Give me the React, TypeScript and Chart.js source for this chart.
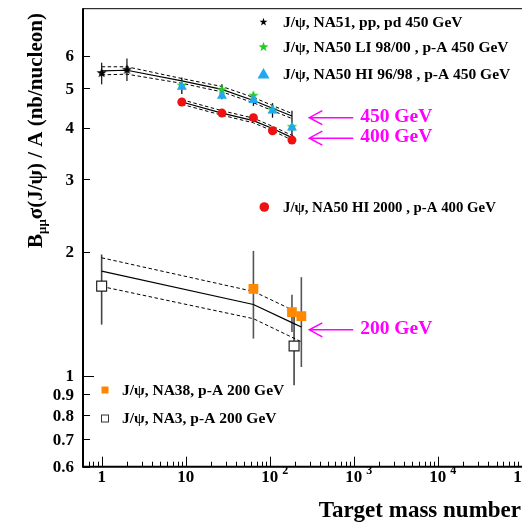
import React, { useEffect, useRef } from "react";
import { Chart, registerables } from "chart.js";
Chart.register(...registerables);

const SERIF = '"Liberation Serif", "Times New Roman", serif';

// ---- Data: J/psi, NA51 pp, pd 450 GeV
const NA51_A = [1, 2];
const NA51_Y = [5.46, 5.56];
const NA51_LO = [5.11, 5.21];
const NA51_HI = [5.77, 5.91];

// ---- NA50 LI 98/00, p-A 450 GeV
const LI_A = [9, 27, 64, 108, 184];
const LI_Y = [5.09, 4.97, 4.81, 4.45, 4.04];
const LI_LO = [4.84, 4.7, 4.53, 4.24, 3.83];
const LI_HI = [5.31, 5.11, 4.88, 4.6, 4.41];

// ---- NA50 HI 96/98, p-A 450 GeV
const HI_A = [9, 27, 64, 108, 184];
const HI_Y = [5.04, 4.79, 4.68, 4.41, 4.01];

// ---- NA50 HI 2000, p-A 400 GeV
const H2_A = [9, 27, 64, 108, 184];
const H2_Y = [4.63, 4.35, 4.24, 3.94, 3.74];

// ---- NA38, p-A 200 GeV
const NA38_A = [64, 184, 238];
const NA38_Y = [1.626, 1.427, 1.395];
const NA38_LO = [1.23, 1.276, 1.049];
const NA38_HI = [2.01, 1.573, 1.735];

// ---- NA3, p-A 200 GeV
const NA3_A = [1, 195];
const NA3_Y = [1.65, 1.18];
const NA3_LO = [1.33, 0.947];
const NA3_HI = [1.97, 1.4];

// ---- Fits (central, upper, lower)
const F450_A = [1, 2, 9, 27, 64, 108, 184];
const F450 = [5.51, 5.53, 5.21, 4.97, 4.67, 4.47, 4.28];
const F450_UP = [5.64, 5.64, 5.28, 5.05, 4.75, 4.54, 4.34];
const F450_DN = [5.39, 5.41, 5.14, 4.9, 4.61, 4.41, 4.22];

const F400_A = [9, 27, 64, 108, 195];
const F400 = [4.63, 4.35, 4.17, 3.99, 3.77];
const F400_UP = [4.69, 4.41, 4.23, 4.04, 3.82];
const F400_DN = [4.57, 4.3, 4.12, 3.94, 3.72];

const F200_A = [1, 64, 184, 238];
const F200 = [1.795, 1.489, 1.345, 1.312];
const F200_UP = [1.934, 1.602, 1.446, 1.41];
const F200_DN = [1.647, 1.375, 1.239, 1.208];

// ---- Axes
const X_MIN = 0.6;
const X_MAX = 1e5;
const Y_MIN = 0.6;
const Y_MAX = 7.83;
const X_DECADES = [0, 1, 2, 3, 4, 5];
const Y_TICKS = [0.6, 0.7, 0.8, 0.9, 1, 2, 3, 4, 5, 6];
const Y_TICK_LABELS = ["0.6", "0.7", "0.8", "0.9", "1", "2", "3", "4", "5", "6"];

// ---- Energy arrows (data coords)
const ARROW_LABELS = ["450 GeV", "400 GeV", "200 GeV"];
const ARROW_Y = [4.24, 3.78, 1.292];
const ARROW_TIP_A = 296;
const ARROW_TAIL_A = 985;
const ARROW_TEXT_A = 1195;

// ---- Legend texts
const LEGEND_TOP = [
  "J/\u03c8, NA51, pp, pd 450 GeV",
  "J/\u03c8, NA50 LI 98/00 , p-A 450 GeV",
  "J/\u03c8, NA50 HI 96/98 , p-A 450 GeV",
];
const LEGEND_RED = "J/\u03c8, NA50 HI 2000 , p-A 400 GeV";
const LEGEND_BOTTOM = ["J/\u03c8, NA38, p-A 200 GeV", "J/\u03c8, NA3, p-A 200 GeV"];

const C_GREEN = "#22cc22";
const C_BLUE = "#22a8f0";
const C_RED = "#ee1111";
const C_ORANGE = "#ff8800";
const C_MAGENTA = "#ff00ff";

function starPath(ctx: CanvasRenderingContext2D, x: number, y: number, R: number) {
  ctx.beginPath();
  for (let i = 0; i < 10; i++) {
    const r = i % 2 === 0 ? R : R * 0.4;
    const a = -Math.PI / 2 + (i * Math.PI) / 5;
    const px = x + r * Math.cos(a);
    const py = y + r * Math.sin(a);
    if (i === 0) ctx.moveTo(px, py);
    else ctx.lineTo(px, py);
  }
  ctx.closePath();
}

function makeStar(R: number, color: string): HTMLCanvasElement {
  const s = Math.ceil(2 * R + 2);
  const c = document.createElement("canvas");
  c.width = s;
  c.height = s;
  const ctx = c.getContext("2d")!;
  starPath(ctx, s / 2, s / 2 + 0.5, R);
  ctx.fillStyle = color;
  ctx.fill();
  return c;
}

const pts = (xs: number[], ys: number[]) => xs.map((x, i) => ({ x, y: ys[i] }));

export default function App() {
  const ref = useRef<HTMLCanvasElement>(null);
  useEffect(() => {
    const canvas = ref.current!;
    const starBlack = makeStar(5.4, "#000");
    const starGreen = makeStar(5.6, C_GREEN);

    const lineDs = (xs: number[], ys: number[], dashed: boolean) => ({
      type: "line" as const,
      data: pts(xs, ys),
      showLine: true,
      borderColor: "#000",
      borderWidth: dashed ? 1 : 1.2,
      borderDash: dashed ? [3.5, 2.5] : [],
      pointRadius: 0,
      fill: false,
      tension: 0,
      order: 1,
    });

    const errPlugin = {
      id: "errbars",
      beforeDatasetsDraw(chart: any) {
        const ctx = chart.ctx;
        const xs = chart.scales.x;
        const ys = chart.scales.y;
        chart.data.datasets.forEach((ds: any) => {
          if (!ds.errLo) return;
          ctx.save();
          ctx.strokeStyle = ds.errColor;
          ctx.lineWidth = ds.errWidth;
          ds.data.forEach((p: any, i: number) => {
            const px = xs.getPixelForValue(p.x);
            ctx.beginPath();
            ctx.moveTo(px, ys.getPixelForValue(ds.errLo[i]));
            ctx.lineTo(px, ys.getPixelForValue(ds.errHi[i]));
            ctx.stroke();
          });
          ctx.restore();
        });
      },
    };

    const decoPlugin = {
      id: "deco",
      afterDraw(chart: any) {
        const ctx: CanvasRenderingContext2D = chart.ctx;
        const xs = chart.scales.x;
        const ys = chart.scales.y;
        const a = chart.chartArea;
        ctx.save();
        ctx.strokeStyle = "#000";
        ctx.fillStyle = "#000";
        // frame
        ctx.lineWidth = 1;
        ctx.beginPath();
        ctx.moveTo(a.left, a.top + 0.5);
        ctx.lineTo(a.right + 10, a.top + 0.5);
        ctx.stroke();
        ctx.lineWidth = 2;
        ctx.beginPath();
        ctx.moveTo(a.left, a.top);
        ctx.lineTo(a.left, a.bottom);
        ctx.lineTo(a.right + 10, a.bottom);
        ctx.stroke();
        // x ticks
        ctx.lineWidth = 1;
        for (let e = -1; e <= 5; e++) {
          for (let m = 1; m <= 9; m++) {
            const v = m * Math.pow(10, e);
            if (v < X_MIN || v > X_MAX) continue;
            const px = Math.round(xs.getPixelForValue(v)) + 0.5;
            const len = m === 1 ? 10 : 5;
            ctx.beginPath();
            ctx.moveTo(px, a.bottom);
            ctx.lineTo(px, a.bottom - len);
            ctx.stroke();
          }
        }
        // y ticks
        Y_TICKS.forEach((v) => {
          const py = Math.round(ys.getPixelForValue(v)) + 0.5;
          const len = v === 1 ? 11 : 7;
          ctx.beginPath();
          ctx.moveTo(a.left, py);
          ctx.lineTo(a.left + len, py);
          ctx.stroke();
        });
        // y tick labels
        ctx.font = `bold 17px ${SERIF}`;
        ctx.textAlign = "right";
        ctx.textBaseline = "middle";
        Y_TICKS.forEach((v, i) => {
          ctx.fillText(Y_TICK_LABELS[i], 74, ys.getPixelForValue(v) + 1);
        });
        // x tick labels
        X_DECADES.forEach((e) => {
          const px = xs.getPixelForValue(Math.pow(10, e));
          ctx.font = `bold 17px ${SERIF}`;
          ctx.textAlign = "center";
          if (e === 0) ctx.fillText("1", px, 478);
          else {
            ctx.fillText("10", px, 478);
            if (e >= 2) {
              ctx.font = `bold 12px ${SERIF}`;
              ctx.textAlign = "left";
              ctx.fillText(String(e), px + 12.5, 470.5);
            }
          }
        });
        // x title
        ctx.font = `bold 23px ${SERIF}`;
        ctx.textAlign = "right";
        ctx.textBaseline = "alphabetic";
        ctx.fillText("Target mass number", 521, 517);
        // y title
        ctx.save();
        ctx.translate(42, 248);
        ctx.rotate(-Math.PI / 2);
        ctx.textAlign = "left";
        ctx.font = `bold 21px ${SERIF}`;
        ctx.fillText("B", 0, 0);
        let off = ctx.measureText("B").width;
        ctx.font = `bold 13px ${SERIF}`;
        ctx.fillText("\u03bc\u03bc", off, 4);
        off += ctx.measureText("\u03bc\u03bc").width;
        ctx.font = `bold 21px ${SERIF}`;
        ctx.fillText("\u03c3(J/\u03c8) / A (nb/nucleon)", off, 0);
        ctx.restore();

        // legends
        ctx.textAlign = "left";
        ctx.textBaseline = "middle";
        ctx.font = `bold 15.5px ${SERIF}`;
        const topY = [21.5, 46.5, 74];
        starPath(ctx, 263.5, topY[0] + 0.5, 4.2);
        ctx.fillStyle = "#000";
        ctx.fill();
        starPath(ctx, 263.5, topY[1] + 0.5, 5.2);
        ctx.fillStyle = C_GREEN;
        ctx.fill();
        ctx.beginPath();
        ctx.moveTo(263.5, topY[2] - 6);
        ctx.lineTo(269.5, topY[2] + 4.5);
        ctx.lineTo(257.5, topY[2] + 4.5);
        ctx.closePath();
        ctx.fillStyle = C_BLUE;
        ctx.fill();
        ctx.fillStyle = "#000";
        LEGEND_TOP.forEach((t, i) => ctx.fillText(t, 283, topY[i] + 1));
        // red legend
        ctx.beginPath();
        ctx.arc(264.3, 207, 4.8, 0, Math.PI * 2);
        ctx.fillStyle = C_RED;
        ctx.fill();
        ctx.fillStyle = "#000";
        ctx.font = `bold 14.8px ${SERIF}`;
        ctx.fillText(LEGEND_RED, 283, 208);
        // bottom legend
        ctx.font = `bold 15.5px ${SERIF}`;
        ctx.fillStyle = C_ORANGE;
        ctx.fillRect(101.5, 386.5, 7, 7);
        ctx.strokeStyle = "#333";
        ctx.lineWidth = 1;
        ctx.strokeRect(101.5, 415, 7, 7);
        ctx.fillStyle = "#000";
        ctx.fillText(LEGEND_BOTTOM[0], 122, 391);
        ctx.fillText(LEGEND_BOTTOM[1], 122, 419);

        // arrows
        ctx.strokeStyle = C_MAGENTA;
        ctx.fillStyle = C_MAGENTA;
        ctx.lineWidth = 1.5;
        ctx.font = `bold 19.5px ${SERIF}`;
        ARROW_LABELS.forEach((t, i) => {
          const y = ys.getPixelForValue(ARROW_Y[i]);
          const x0 = xs.getPixelForValue(ARROW_TIP_A);
          const x1 = xs.getPixelForValue(ARROW_TAIL_A);
          ctx.beginPath();
          ctx.moveTo(x1, y);
          ctx.lineTo(x0, y);
          ctx.moveTo(x0 + 13, y - 7);
          ctx.lineTo(x0, y);
          ctx.lineTo(x0 + 13, y + 7);
          ctx.stroke();
          ctx.fillText(t, xs.getPixelForValue(ARROW_TEXT_A), y - 1);
        });
        ctx.restore();
      },
    };

    const chart = new Chart(canvas, {
      type: "scatter",
      data: {
        datasets: [
          {
            data: pts(HI_A, HI_Y),
            pointStyle: "triangle",
            pointRadius: 5.8,
            backgroundColor: C_BLUE,
            borderWidth: 0,
            order: 0,
          },
          {
            data: pts(LI_A, LI_Y),
            pointStyle: starGreen,
            pointRadius: 5,
            errLo: LI_LO,
            errHi: LI_HI,
            errColor: "#111",
            errWidth: 1.3,
            order: 0,
          },
          {
            data: pts(NA51_A, NA51_Y),
            pointStyle: starBlack,
            pointRadius: 5,
            errLo: NA51_LO,
            errHi: NA51_HI,
            errColor: "#222",
            errWidth: 1.3,
            order: 0,
          },
          {
            data: pts(H2_A, H2_Y),
            pointStyle: "circle",
            pointRadius: 4.5,
            backgroundColor: C_RED,
            borderWidth: 0,
            order: 0,
          },
          {
            data: pts(NA38_A, NA38_Y),
            pointStyle: "rect",
            pointRadius: 6.9,
            backgroundColor: C_ORANGE,
            borderWidth: 0,
            errLo: NA38_LO,
            errHi: NA38_HI,
            errColor: "#555",
            errWidth: 1.6,
            order: 0,
          },
          {
            data: pts(NA3_A, NA3_Y),
            pointStyle: "rect",
            pointRadius: 7,
            backgroundColor: "#fff",
            borderColor: "#222",
            borderWidth: 1.2,
            errLo: NA3_LO,
            errHi: NA3_HI,
            errColor: "#444",
            errWidth: 1.6,
            order: 0,
          },
          lineDs(F450_A, F450, false),
          lineDs(F450_A, F450_UP, true),
          lineDs(F450_A, F450_DN, true),
          lineDs(F400_A, F400, false),
          lineDs(F400_A, F400_UP, true),
          lineDs(F400_A, F400_DN, true),
          lineDs(F200_A, F200, false),
          lineDs(F200_A, F200_UP, true),
          lineDs(F200_A, F200_DN, true),
        ] as any,
      },
      options: {
        responsive: false,
        animation: false,
        events: [],
        layout: { padding: { left: 83, top: 7, right: 7, bottom: 55.3 } },
        plugins: { legend: { display: false }, tooltip: { enabled: false } },
        scales: {
          x: { type: "logarithmic", min: X_MIN, max: X_MAX, display: false, bounds: "data" },
          y: { type: "logarithmic", min: Y_MIN, max: Y_MAX, display: false, bounds: "data" },
        },
      } as any,
      plugins: [errPlugin, decoPlugin],
    });
    return () => chart.destroy();
  }, []);
  return (
    <canvas
      ref={ref}
      width={530}
      height={522}
      style={{ position: "fixed", left: 0, top: 0, display: "block" }}
    />
  );
}
